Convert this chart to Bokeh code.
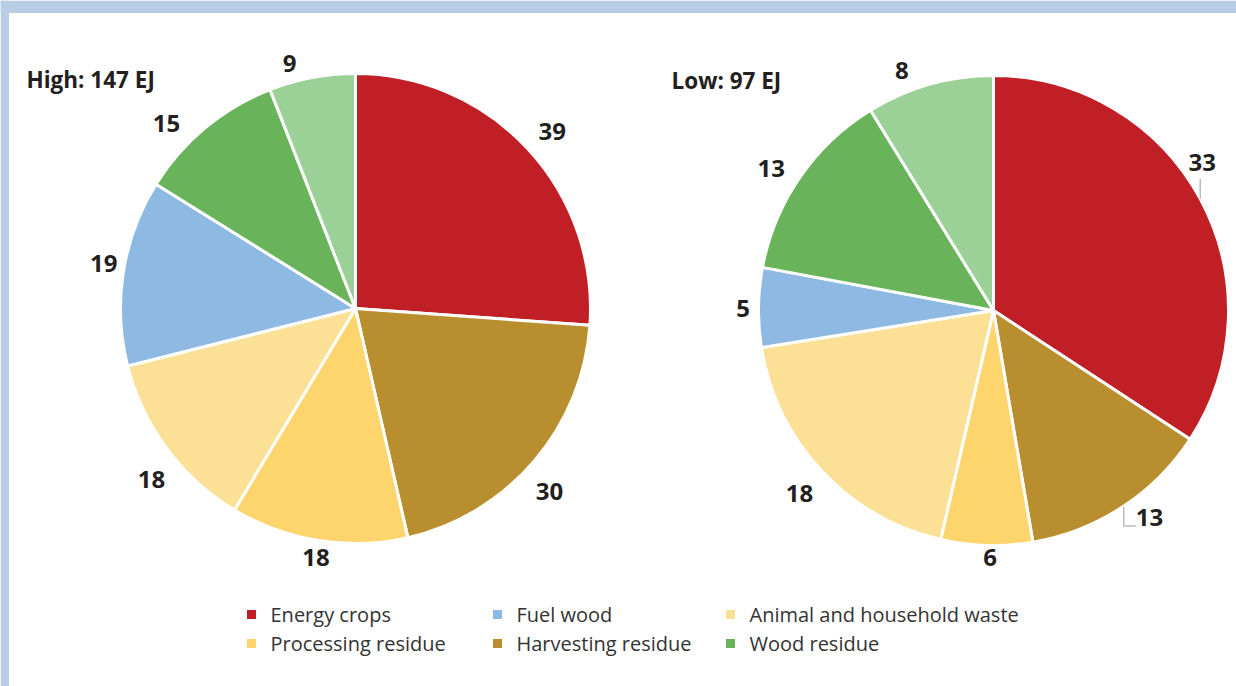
import numpy as np
from bokeh.plotting import figure
from bokeh.models import Range1d, ColumnDataSource
from bokeh.core.properties import value
from bokeh.embed import file_html
from bokeh.resources import INLINE

# ---- data ----
categories = ["Energy crops", "Harvesting residue", "Processing residue",
              "Animal and household waste", "Fuel wood", "Wood residue", "Other"]
colors = ["#C01F25", "#B98E2E", "#FED46C", "#FCE095", "#8DB9E3", "#69B45A", "#9BD196"]
# slice sizes (EJ) and the printed labels
high_values = [38.4, 29.8, 17.9, 18.3, 18.8, 15.0, 8.7]
high_labels = ["39", "30", "18", "18", "19", "15", "9"]
low_values = [33.2, 12.7, 6.1, 18.3, 5.3, 12.9, 8.5]
low_labels = ["33", "13", "6", "18", "5", "13", "8"]
high_title = "High: 147 EJ"
low_title = "Low: 97 EJ"
legend_order = ["Energy crops", "Fuel wood", "Animal and household waste",
                "Processing residue", "Harvesting residue", "Wood residue"]

# ---- layout ----
W, H = 1236, 686
R = 235
high_nudge = [-0.7, -2.5, 0, 3.2, -1.5, 5.7, 4.3]   # label angle tweaks (deg)
low_nudge = [0, 0, 0.9, 0, 0, 1.6, 5.0]

p = figure(width=W, height=H, output_backend="svg", toolbar_location=None,
           x_range=Range1d(0, W), y_range=Range1d(-H, 0),
           x_axis_type=None, y_axis_type=None, min_border=0,
           background_fill_color="white", border_fill_color="white")
p.outline_line_color = None
p.grid.visible = False

# frame band (top and left)
p.quad(left=0, right=W, top=0, bottom=-12.5, color="#B9CDE5", line_color=None)
p.quad(left=0, right=8.5, top=0, bottom=-H, color="#B9CDE5", line_color=None)

FONT = value("Open Sans")
NUM_SIZE = "24px"
TXT = "#231F20"


def draw_pie(cx, cy, vals, labels, nudge, title, tx, ty, leaders):
    total = float(sum(vals))
    fr = np.array(vals) / total * 2 * np.pi
    cum = np.concatenate([[0], np.cumsum(fr)[:-1]])
    top = np.pi / 2 - cum
    bot = top - fr
    src = ColumnDataSource(dict(s=bot, e=top, c=colors, v=vals))
    p.wedge(x=cx, y=-cy, radius=R, start_angle="s", end_angle="e", direction="anticlock",
            fill_color="c", line_color="white", line_width=3, source=src)
    mid = (top + bot) / 2
    for i, lab in enumerate(labels):
        a = mid[i]
        if i in leaders:
            ex, ey = cx + R * np.cos(a), -cy + R * np.sin(a)
            if leaders[i] == "up":
                p.line([ex, ex], [ey, ey + 20], line_color="#BBBBBB", line_width=1.5)
                p.text(x=[ex + 2], y=[ey + 36], text=[lab], text_align="center",
                       text_baseline="middle", text_font=FONT, text_font_style="bold",
                       text_font_size=NUM_SIZE, text_color=TXT)
            else:
                lx = ex + 1.5
                p.line([lx, lx, lx + 12], [ey, ey - 19, ey - 19], line_color="#BBBBBB", line_width=1.5)
                p.text(x=[lx + 12], y=[ey - 10], text=[lab], text_align="left",
                       text_baseline="middle", text_font=FONT, text_font_style="bold",
                       text_font_size=NUM_SIZE, text_color=TXT)
        else:
            a2 = a + np.radians(nudge[i])
            rl = R + 10 + 17 * abs(np.sin(2 * a2)) + 5 * abs(np.cos(a2))
            p.text(x=[cx + rl * np.cos(a2)], y=[-cy + rl * np.sin(a2) - 1.5], text=[lab],
                   text_align="center", text_baseline="middle", text_font=FONT,
                   text_font_style="bold", text_font_size=NUM_SIZE, text_color=TXT)
    p.text(x=[tx], y=[-ty], text=[title], text_align="left", text_baseline="middle",
           text_font=FONT, text_font_style="bold", text_font_size="22.5px", text_color=TXT)


draw_pie(355, 308, high_values, high_labels, high_nudge, high_title, 26, 79, {})
draw_pie(993, 310, low_values, low_labels, low_nudge, low_title, 671, 80, {0: "up", 1: "down"})

# legend
col_x = [251, 497, 730]
row_y = [614, 643]
for k, name in enumerate(legend_order):
    cxl = col_x[k % 3]
    ryl = row_y[k // 3]
    c = colors[categories.index(name)]
    p.scatter(x=[cxl], y=[-ryl], marker="square", size=9, fill_color=c, line_color=None)
    p.text(x=[cxl + 19], y=[-ryl], text=[name], text_align="left", text_baseline="middle",
           text_font=FONT, text_font_size="20px", text_color="#333333")

open("out.html", "w").write(file_html(p, INLINE))
